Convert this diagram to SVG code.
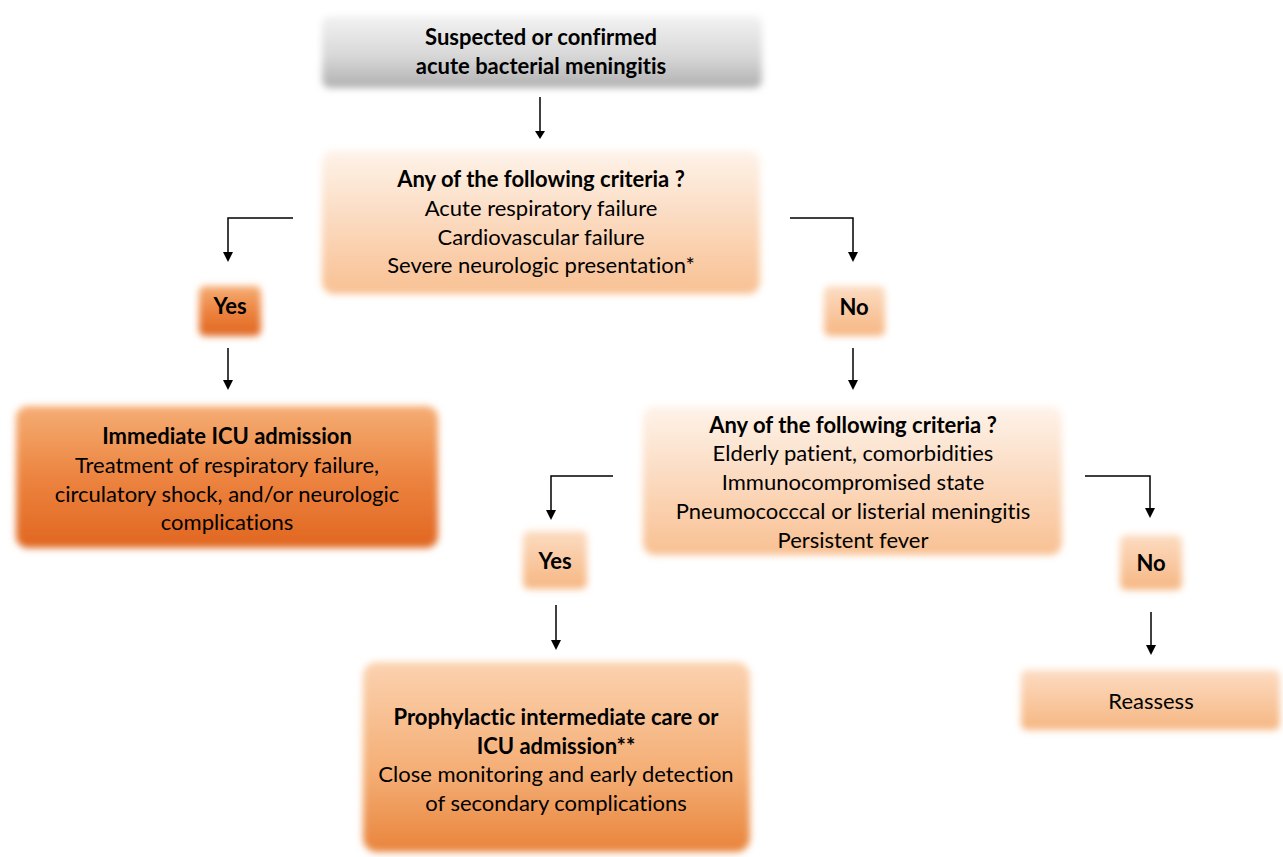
<svg xmlns="http://www.w3.org/2000/svg" width="1283" height="857" viewBox="0 0 1283 857">
<defs>
<filter id="soft" x="-10%" y="-20%" width="120%" height="140%"><feGaussianBlur stdDeviation="3.5"/></filter>
<linearGradient id="gray" x1="0" y1="0" x2="0" y2="1"><stop offset="0" stop-color="#f2f2f2"/><stop offset="0.55" stop-color="#d8d8d8"/><stop offset="1" stop-color="#b0b0b0"/></linearGradient>
<linearGradient id="peachL" x1="0" y1="0" x2="0" y2="1"><stop offset="0" stop-color="#fef3ea"/><stop offset="1" stop-color="#f8c092"/></linearGradient>
<linearGradient id="peach" x1="0" y1="0" x2="0" y2="1"><stop offset="0" stop-color="#fcdcc2"/><stop offset="1" stop-color="#f6b682"/></linearGradient>
<linearGradient id="orange" x1="0" y1="0" x2="0" y2="1"><stop offset="0" stop-color="#f5ad74"/><stop offset="0.5" stop-color="#ec8440"/><stop offset="1" stop-color="#e06620"/></linearGradient>
<linearGradient id="orangeMid" x1="0" y1="0" x2="0" y2="1"><stop offset="0" stop-color="#fbd2b0"/><stop offset="0.6" stop-color="#f4ac72"/><stop offset="1" stop-color="#e8843c"/></linearGradient>
</defs>
<style>
text{font-family:Lato,"Open Sans","Liberation Sans",sans-serif;font-size:22px;fill:#000;text-anchor:middle;dominant-baseline:central;font-variant-ligatures:none;font-feature-settings:"liga" 0}
.b{font-weight:bold}
.c{fill:none;stroke:#000;stroke-width:1.5}
.h{fill:#000}
</style>
<rect width="1283" height="857" fill="#fff"/>
<g id="connectors">
<path class="c" d="M540,97 V133"/>
<path class="h" d="M535,131 L545,131 L540,139 Z"/>
<path class="c" d="M293,218 H228 V254"/>
<path class="h" d="M223,252 L233,252 L228,262 Z"/>
<path class="c" d="M790,218 H853 V254"/>
<path class="h" d="M848,252 L858,252 L853,262 Z"/>
<path class="c" d="M228,348 V382"/>
<path class="h" d="M223,380 L233,380 L228,390 Z"/>
<path class="c" d="M853,348 V382"/>
<path class="h" d="M848,380 L858,380 L853,390 Z"/>
<path class="c" d="M613,476 H551 V512"/>
<path class="h" d="M546,510 L556,510 L551,520 Z"/>
<path class="c" d="M1085,476 H1150 V510"/>
<path class="h" d="M1145,508 L1155,508 L1150,518 Z"/>
<path class="c" d="M556,605 V642"/>
<path class="h" d="M551,640 L561,640 L556,650 Z"/>
<path class="c" d="M1151,612 V647"/>
<path class="h" d="M1146,645 L1156,645 L1151,655 Z"/>
</g>
<g id="start">
<rect x="322" y="16" width="440" height="72" rx="8" fill="url(#gray)" filter="url(#soft)"/>
<text class="b" x="541" y="36">Suspected or confirmed</text>
<text class="b" x="541" y="65">acute bacterial meningitis</text>
</g>
<g id="criteria1">
<rect x="322" y="150" width="438" height="144" rx="12" fill="url(#peachL)" filter="url(#soft)"/>
<text class="b" x="541" y="178">Any of the following criteria ?</text>
<text x="541" y="207">Acute respiratory failure</text>
<text x="541" y="236">Cardiovascular failure</text>
<text x="541" y="264">Severe neurologic presentation*</text>
</g>
<g id="yes1">
<rect x="199" y="286" width="62" height="50" rx="6" fill="url(#orange)" filter="url(#soft)"/>
<text class="b" x="230" y="305">Yes</text>
</g>
<g id="no1">
<rect x="824" y="286" width="61" height="50" rx="6" fill="url(#peach)" filter="url(#soft)"/>
<text class="b" x="854" y="306">No</text>
</g>
<g id="icu">
<rect x="16" y="406" width="422" height="142" rx="12" fill="url(#orange)" filter="url(#soft)"/>
<text class="b" x="227" y="435">Immediate ICU admission</text>
<text x="227" y="464">Treatment of respiratory failure,</text>
<text x="227" y="493">circulatory shock, and/or neurologic</text>
<text x="227" y="521">complications</text>
</g>
<g id="criteria2">
<rect x="643" y="406" width="419" height="149" rx="12" fill="url(#peachL)" filter="url(#soft)"/>
<text class="b" x="853" y="424">Any of the following criteria ?</text>
<text x="853" y="452">Elderly patient, comorbidities</text>
<text x="853" y="481">Immunocompromised state</text>
<text x="853" y="510">Pneumococccal or listerial meningitis</text>
<text x="853" y="539">Persistent fever</text>
</g>
<g id="yes2">
<rect x="523" y="531" width="64" height="58" rx="6" fill="url(#peach)" filter="url(#soft)"/>
<text class="b" x="555" y="560">Yes</text>
</g>
<g id="no2">
<rect x="1120" y="535" width="62" height="55" rx="6" fill="url(#peach)" filter="url(#soft)"/>
<text class="b" x="1151" y="562">No</text>
</g>
<g id="prophylactic">
<rect x="363" y="662" width="387" height="190" rx="14" fill="url(#orangeMid)" filter="url(#soft)"/>
<text class="b" x="556" y="716">Prophylactic intermediate care or</text>
<text class="b" x="556" y="745">ICU admission**</text>
<text x="556" y="773">Close monitoring and early detection</text>
<text x="556" y="802">of secondary complications</text>
</g>
<g id="reassess">
<rect x="1021" y="670" width="259" height="60" rx="6" fill="url(#peach)" filter="url(#soft)"/>
<text x="1151" y="700">Reassess</text>
</g>
</svg>
